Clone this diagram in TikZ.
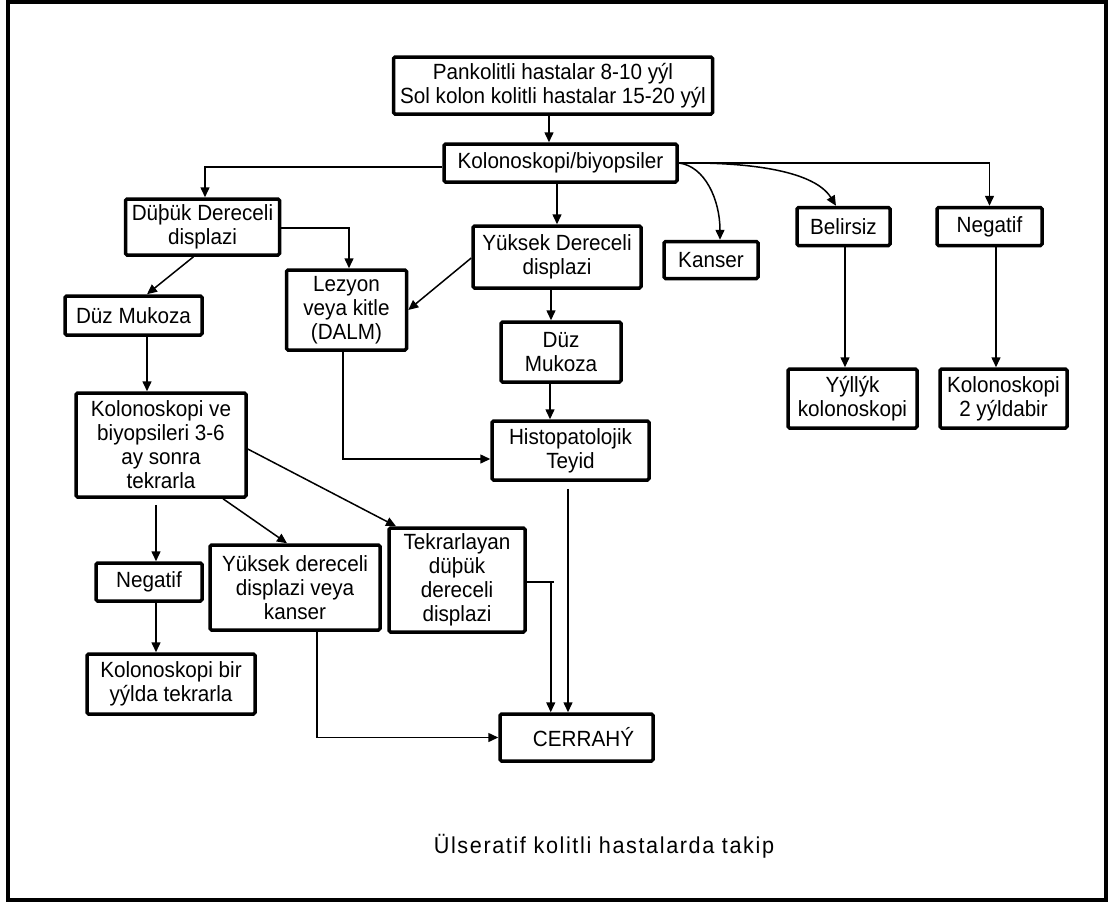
\documentclass[tikz,border=0pt]{standalone}
\usepackage{fontspec}
\setmainfont{Liberation Sans}[FakeStretch=0.94]
\usetikzlibrary{arrows.meta}
\begin{document}
\begin{tikzpicture}[x=1pt,y=-1pt,
  box/.style={draw, line width=3.5pt, fill=white, rounded corners=1.5pt, inner sep=0pt, align=center,
    font=\fontsize{22}{24}\selectfont},
  arr/.style={draw, line width=1.5pt, -{Triangle[length=10pt,width=9pt]}},
  plain/.style={draw, line width=1.5pt}]
\useasboundingbox (0,0) rectangle (1109,902);
\draw[line width=4pt] (7.5,2) rectangle (1105.5,899.5);

\node[box, minimum width=319pt, minimum height=57pt] (top) at (553,85.5) {Pankolitli hastalar 8-10 yýl\\Sol kolon kolitli hastalar 15-20 yýl};
\node[box, minimum width=233pt, minimum height=38pt] (kol) at (560.5,163) {Kolonoskopi/biyopsiler};
\node[box, minimum width=154pt, minimum height=56pt] (dus) at (202.5,227) {Düþük Dereceli\\displazi};
\node[box, minimum width=120pt, minimum height=80pt] (lez) at (346.5,310) {Lezyon\\veya kitle\\(DALM)};
\node[box, minimum width=168pt, minimum height=62pt] (yuk) at (557,257) {Yüksek Dereceli\\displazi};
\node[box, minimum width=94pt, minimum height=37pt] (kan) at (711,260) {Kanser};
\node[box, minimum width=93pt, minimum height=38pt] (bel) at (843.5,226.5) {Belirsiz};
\node[box, minimum width=105pt, minimum height=38pt] (negr) at (989.5,226.5) {Negatif};
\node[box, minimum width=137pt, minimum height=39pt] (duzl) at (133.5,315.5) {Düz Mukoza};
\node[box, minimum width=120pt, minimum height=60pt] (duzm) at (561,352) {Düz\\Mukoza};
\node[box, minimum width=129pt, minimum height=59pt] (yil) at (852.5,398.5) {Yýllýk\\kolonoskopi};
\node[box, minimum width=127pt, minimum height=59pt] (kol2) at (1003.5,398.5) {Kolonoskopi\\2 yýldabir};
\node[box, minimum width=170pt, minimum height=104pt] (kve) at (161,445) {Kolonoskopi ve\\biyopsileri 3-6\\ay sonra\\tekrarla};
\node[box, minimum width=157pt, minimum height=59pt] (his) at (570.5,450.5) {Histopatolojik\\Teyid};
\node[box, minimum width=106pt, minimum height=38pt] (negl) at (149,582) {Negatif};
\node[box, minimum width=170pt, minimum height=85pt] (yd) at (295,587.5) {Yüksek dereceli\\displazi veya\\kanser};
\node[box, minimum width=136pt, minimum height=104pt] (tek) at (457,580) {Tekrarlayan\\düþük\\dereceli\\displazi};
\node[box, minimum width=168pt, minimum height=60pt] (kbir) at (171,684) {Kolonoskopi bir\\yýlda tekrarla};
\node[box, minimum width=153pt, minimum height=47pt] (cer) at (576.5,737.5) {\hspace{14pt}CERRAHÝ};

\node[font=\fontsize{23}{25}\selectfont\addfontfeature{LetterSpace=7}, inner sep=0pt] (cap) at (604,846) {Ülseratif kolitli hastalarda takip};

% connectors
\draw[arr] ([xshift=-4pt]top.south) -- ([xshift=-11.5pt]kol.north);
\draw[arr] ([yshift=-4pt]kol.west) -| ([xshift=2.5pt]dus.north);
\draw[arr] ([xshift=-3.5pt]kol.south) -- (yuk.north);
\draw[arr] (kol.east) .. controls (705,166) and (720,200) .. ([xshift=9pt]kan.north);
\draw[arr] (kol.east) .. controls (755,162) and (815,172) .. ([xshift=-7.5pt]bel.north);
\draw[arr] (kol.east) -| (negr.north);
\draw[arr] ([yshift=-1pt]dus.east) -| ([xshift=2.5pt]lez.north);
\draw[arr] ([xshift=-9pt]dus.south) -- ([xshift=13.5pt]duzl.north);
\draw[arr] ([yshift=-1pt]yuk.west) -- (lez.east);
\draw[arr] ([xshift=-6pt]yuk.south) -- ([xshift=-10pt]duzm.north);
\draw[arr] ([xshift=-11pt]duzm.south) -- ([xshift=-20.5pt]his.north);
\draw[arr] ([xshift=-3.5pt]lez.south) |- ([yshift=-8.5pt]his.west);
\draw[arr] ([xshift=1.5pt]bel.south) -- ([xshift=-7.5pt]yil.north);
\draw[arr] ([xshift=6.5pt]negr.south) -- ([xshift=-7.5pt]kol2.north);
\draw[arr] ([xshift=13.5pt]duzl.south) -- ([xshift=-14pt]kve.north);
\draw[arr] ([xshift=-5pt,yshift=-6pt]kve.south) -- ([xshift=7pt]negl.north);
\draw[arr] ([xshift=62pt]kve.south) -- ([xshift=-8pt]yd.north);
\draw[arr] ([yshift=-4pt]kve.east) -- ([xshift=-61pt]tek.north);
\draw[arr] ([xshift=7pt]negl.south) -- ([xshift=-15pt]kbir.north);
\draw[arr] ([xshift=22pt]yd.south) |- (cer.west);
\coordinate (tj) at ([xshift=24pt,yshift=-2pt]tek.east);
\draw[plain] ([yshift=-2pt]tek.east) -- ([xshift=3pt]tj);
\draw[arr] (tj) -- (tj |- cer.north);
\draw[arr] ([xshift=-2.5pt,yshift=-7pt]his.south) -- ([xshift=-8.5pt]cer.north);
\end{tikzpicture}
\end{document}
